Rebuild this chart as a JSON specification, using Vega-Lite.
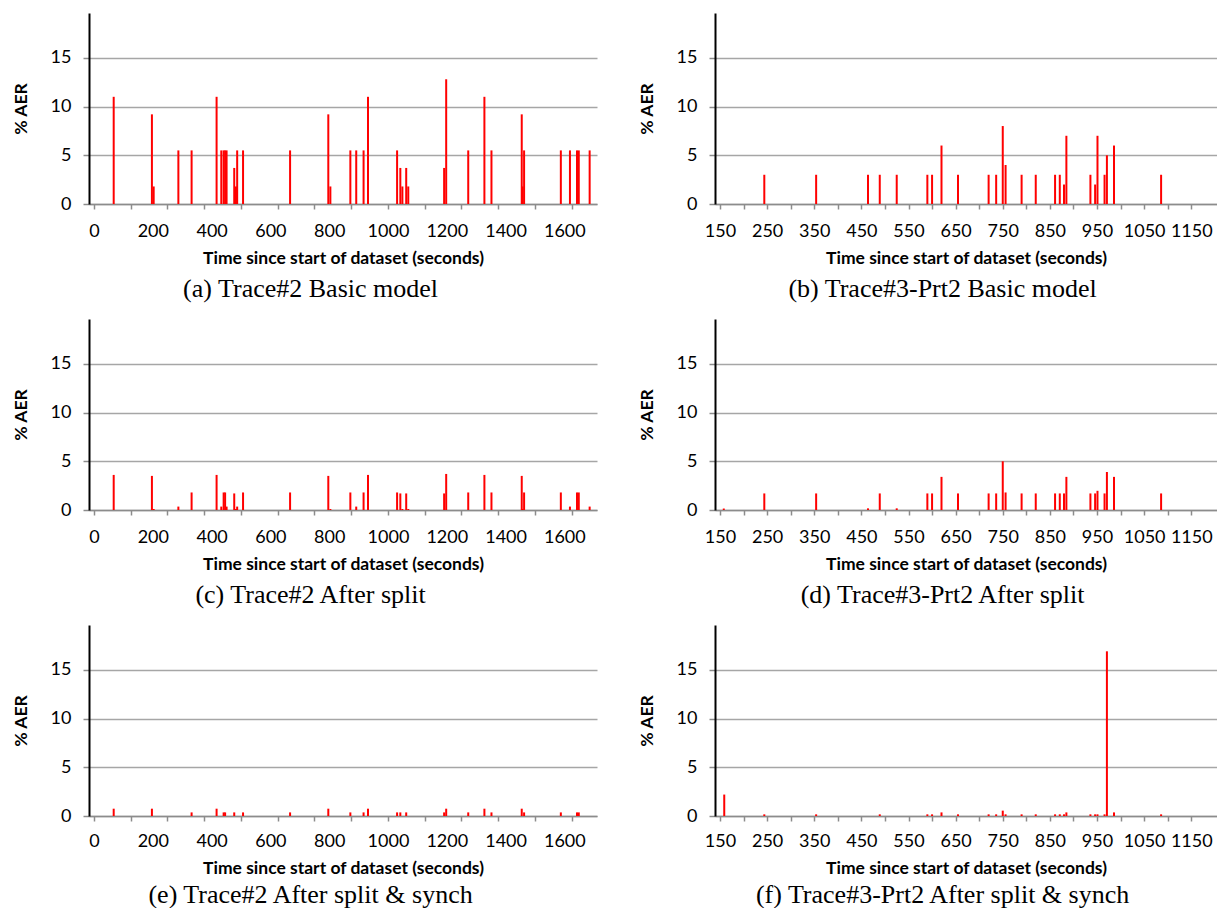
{
  "$schema": "https://vega.github.io/schema/vega-lite/v6.json",
  "padding": {"left": 12, "top": 13, "right": 0, "bottom": 0},
  "background": "white",
  "datasets": {
    "a": [{"t":67,"aer":11},{"t":197,"aer":9.2},{"t":203,"aer":1.8},{"t":287,"aer":5.5},{"t":332,"aer":5.5},{"t":417,"aer":11},{"t":433,"aer":5.5},{"t":441,"aer":5.5},{"t":446,"aer":5.5},{"t":451,"aer":5.5},{"t":477,"aer":3.7},{"t":483,"aer":1.8},{"t":487,"aer":5.5},{"t":507,"aer":5.5},{"t":667,"aer":5.5},{"t":797,"aer":9.2},{"t":804,"aer":1.8},{"t":872,"aer":5.5},{"t":892,"aer":5.5},{"t":917,"aer":5.5},{"t":932,"aer":11},{"t":1031,"aer":5.5},{"t":1042,"aer":3.7},{"t":1049,"aer":1.8},{"t":1062,"aer":3.7},{"t":1069,"aer":1.8},{"t":1191,"aer":3.7},{"t":1198,"aer":12.8},{"t":1273,"aer":5.5},{"t":1328,"aer":11},{"t":1352,"aer":5.5},{"t":1455,"aer":9.2},{"t":1458,"aer":1.8},{"t":1463,"aer":5.5},{"t":1588,"aer":5.5},{"t":1619,"aer":5.5},{"t":1643,"aer":5.5},{"t":1649,"aer":5.5},{"t":1686,"aer":5.5}],
    "b": [{"t":244,"aer":3},{"t":354,"aer":3},{"t":464,"aer":3},{"t":489,"aer":3},{"t":525,"aer":3},{"t":590,"aer":3},{"t":600,"aer":3},{"t":620,"aer":6},{"t":655,"aer":3},{"t":720,"aer":3},{"t":736,"aer":3},{"t":750,"aer":8},{"t":756,"aer":4},{"t":790,"aer":3},{"t":820,"aer":3},{"t":861,"aer":3},{"t":871,"aer":3},{"t":880,"aer":2},{"t":885,"aer":7},{"t":936,"aer":3},{"t":946,"aer":2},{"t":951,"aer":7},{"t":966,"aer":3},{"t":971,"aer":5},{"t":986,"aer":6},{"t":1086,"aer":3}],
    "c": [{"t":67,"aer":3.6},{"t":197,"aer":3.5},{"t":203,"aer":0.1},{"t":287,"aer":0.35},{"t":332,"aer":1.8},{"t":417,"aer":3.6},{"t":433,"aer":0.35},{"t":441,"aer":1.8},{"t":446,"aer":1.8},{"t":451,"aer":0.35},{"t":477,"aer":1.7},{"t":483,"aer":0.1},{"t":487,"aer":0.35},{"t":507,"aer":1.8},{"t":667,"aer":1.8},{"t":797,"aer":3.5},{"t":804,"aer":0.1},{"t":872,"aer":1.8},{"t":892,"aer":0.35},{"t":917,"aer":1.8},{"t":932,"aer":3.6},{"t":1031,"aer":1.8},{"t":1042,"aer":1.7},{"t":1049,"aer":0.1},{"t":1062,"aer":1.7},{"t":1069,"aer":0.1},{"t":1191,"aer":1.7},{"t":1198,"aer":3.7},{"t":1273,"aer":1.8},{"t":1328,"aer":3.6},{"t":1352,"aer":1.8},{"t":1455,"aer":3.5},{"t":1458,"aer":0.1},{"t":1463,"aer":1.8},{"t":1588,"aer":1.8},{"t":1619,"aer":0.35},{"t":1643,"aer":1.8},{"t":1649,"aer":1.8},{"t":1686,"aer":0.35}],
    "d": [{"t":158,"aer":0.15},{"t":244,"aer":1.7},{"t":354,"aer":1.7},{"t":464,"aer":0.17},{"t":489,"aer":1.7},{"t":525,"aer":0.17},{"t":590,"aer":1.7},{"t":600,"aer":1.7},{"t":620,"aer":3.4},{"t":655,"aer":1.7},{"t":720,"aer":1.7},{"t":736,"aer":1.7},{"t":750,"aer":5.0},{"t":756,"aer":1.8},{"t":790,"aer":1.7},{"t":820,"aer":1.7},{"t":861,"aer":1.7},{"t":871,"aer":1.7},{"t":880,"aer":1.7},{"t":885,"aer":3.4},{"t":936,"aer":1.7},{"t":946,"aer":1.7},{"t":951,"aer":1.97},{"t":966,"aer":1.7},{"t":971,"aer":3.9},{"t":986,"aer":3.4},{"t":1086,"aer":1.7}],
    "e": [{"t":67,"aer":0.75},{"t":197,"aer":0.75},{"t":332,"aer":0.37},{"t":417,"aer":0.75},{"t":441,"aer":0.37},{"t":446,"aer":0.37},{"t":477,"aer":0.37},{"t":507,"aer":0.37},{"t":667,"aer":0.37},{"t":797,"aer":0.75},{"t":872,"aer":0.37},{"t":917,"aer":0.37},{"t":932,"aer":0.75},{"t":1031,"aer":0.37},{"t":1042,"aer":0.37},{"t":1062,"aer":0.37},{"t":1191,"aer":0.37},{"t":1198,"aer":0.75},{"t":1273,"aer":0.37},{"t":1328,"aer":0.75},{"t":1352,"aer":0.37},{"t":1455,"aer":0.75},{"t":1463,"aer":0.37},{"t":1588,"aer":0.37},{"t":1643,"aer":0.37},{"t":1649,"aer":0.37}],
    "f": [{"t":159,"aer":2.2},{"t":244,"aer":0.17},{"t":354,"aer":0.17},{"t":489,"aer":0.17},{"t":590,"aer":0.17},{"t":600,"aer":0.17},{"t":620,"aer":0.37},{"t":655,"aer":0.17},{"t":720,"aer":0.17},{"t":736,"aer":0.17},{"t":750,"aer":0.55},{"t":756,"aer":0.17},{"t":790,"aer":0.17},{"t":820,"aer":0.17},{"t":861,"aer":0.17},{"t":871,"aer":0.17},{"t":880,"aer":0.17},{"t":885,"aer":0.37},{"t":936,"aer":0.17},{"t":946,"aer":0.17},{"t":951,"aer":0.17},{"t":966,"aer":0.17},{"t":971,"aer":16.9},{"t":986,"aer":0.37},{"t":1086,"aer":0.17}]
  },
  "columns": 2,
  "spacing": {"row": 17, "column": 41},
  "concat": [
    {
      "width": 508, "height": 191,
      "title": {"text": "(a) Trace#2 Basic model", "dx": 6},
      "data": {"name": "a"},
      "mark": {"type": "bar", "size": 2, "color": "#ff0000"},
      "encoding": {
        "x": {"field": "t", "type": "quantitative", "scale": {"domain": [0, 1694], "nice": false, "zero": false},
          "axis": {"values": [0,125,200,250,375,400,500,600,625,750,800,875,1000,1125,1200,1250,1375,1400,1500,1600,1625], "format": "d", "labelExpr": "datum.value % 200 === 0 ? datum.label : ''", "tickOpacity": {"condition": {"test": "datum.value % 125 === 0", "value": 1}, "value": 0}, "labelOverlap": false, "labelFlush": false, "grid": false, "title": "Time since start of dataset (seconds)"}},
        "y": {"field": "aer", "type": "quantitative", "scale": {"domain": [0, 19.6], "nice": false}, "axis": {"values": [0,5,10,15], "grid": true, "title": "% AER"}}
      }
    },
    {
      "width": 502, "height": 191,
      "title": {"text": "(b) Trace#3-Prt2 Basic model", "dx": 15},
      "data": {"name": "b"},
      "mark": {"type": "bar", "size": 2, "color": "#ff0000"},
      "encoding": {
        "x": {"field": "t", "type": "quantitative", "scale": {"domain": [150, 1194], "nice": false, "zero": false},
          "axis": {"values": [150,200,250,300,350,400,450,500,550,600,650,700,750,800,850,900,950,1000,1050,1100,1150], "format": "d", "labelExpr": "(datum.value - 150) % 100 === 0 ? datum.label : ''", "labelOverlap": false, "labelFlush": false, "grid": false, "title": "Time since start of dataset (seconds)"}},
        "y": {"field": "aer", "type": "quantitative", "scale": {"domain": [0, 19.6], "nice": false}, "axis": {"values": [0,5,10,15], "grid": true, "title": "% AER"}}
      }
    },
    {
      "width": 508, "height": 191,
      "title": {"text": "(c) Trace#2 After split", "dx": 6},
      "data": {"name": "c"},
      "mark": {"type": "bar", "size": 2, "color": "#ff0000"},
      "encoding": {
        "x": {"field": "t", "type": "quantitative", "scale": {"domain": [0, 1694], "nice": false, "zero": false},
          "axis": {"values": [0,125,200,250,375,400,500,600,625,750,800,875,1000,1125,1200,1250,1375,1400,1500,1600,1625], "format": "d", "labelExpr": "datum.value % 200 === 0 ? datum.label : ''", "tickOpacity": {"condition": {"test": "datum.value % 125 === 0", "value": 1}, "value": 0}, "labelOverlap": false, "labelFlush": false, "grid": false, "title": "Time since start of dataset (seconds)"}},
        "y": {"field": "aer", "type": "quantitative", "scale": {"domain": [0, 19.6], "nice": false}, "axis": {"values": [0,5,10,15], "grid": true, "title": "% AER"}}
      }
    },
    {
      "width": 502, "height": 191,
      "title": {"text": "(d) Trace#3-Prt2 After split", "dx": 15},
      "data": {"name": "d"},
      "mark": {"type": "bar", "size": 2, "color": "#ff0000"},
      "encoding": {
        "x": {"field": "t", "type": "quantitative", "scale": {"domain": [150, 1194], "nice": false, "zero": false},
          "axis": {"values": [150,200,250,300,350,400,450,500,550,600,650,700,750,800,850,900,950,1000,1050,1100,1150], "format": "d", "labelExpr": "(datum.value - 150) % 100 === 0 ? datum.label : ''", "labelOverlap": false, "labelFlush": false, "grid": false, "title": "Time since start of dataset (seconds)"}},
        "y": {"field": "aer", "type": "quantitative", "scale": {"domain": [0, 19.6], "nice": false}, "axis": {"values": [0,5,10,15], "grid": true, "title": "% AER"}}
      }
    },
    {
      "width": 508, "height": 191,
      "title": {"text": "(e) Trace#2 After split & synch", "dx": 6, "offset": 5},
      "data": {"name": "e"},
      "mark": {"type": "bar", "size": 2, "color": "#ff0000"},
      "encoding": {
        "x": {"field": "t", "type": "quantitative", "scale": {"domain": [0, 1694], "nice": false, "zero": false},
          "axis": {"values": [0,125,200,250,375,400,500,600,625,750,800,875,1000,1125,1200,1250,1375,1400,1500,1600,1625], "format": "d", "labelExpr": "datum.value % 200 === 0 ? datum.label : ''", "tickOpacity": {"condition": {"test": "datum.value % 125 === 0", "value": 1}, "value": 0}, "labelOverlap": false, "labelFlush": false, "labelPadding": 11, "grid": false, "title": "Time since start of dataset (seconds)"}},
        "y": {"field": "aer", "type": "quantitative", "scale": {"domain": [0, 19.6], "nice": false}, "axis": {"values": [0,5,10,15], "grid": true, "title": "% AER"}}
      }
    },
    {
      "width": 502, "height": 191,
      "title": {"text": "(f) Trace#3-Prt2 After split & synch", "dx": 15, "offset": 5},
      "data": {"name": "f"},
      "mark": {"type": "bar", "size": 2, "color": "#ff0000"},
      "encoding": {
        "x": {"field": "t", "type": "quantitative", "scale": {"domain": [150, 1194], "nice": false, "zero": false},
          "axis": {"values": [150,200,250,300,350,400,450,500,550,600,650,700,750,800,850,900,950,1000,1050,1100,1150], "format": "d", "labelExpr": "(datum.value - 150) % 100 === 0 ? datum.label : ''", "labelOverlap": false, "labelFlush": false, "labelPadding": 11, "grid": false, "title": "Time since start of dataset (seconds)"}},
        "y": {"field": "aer", "type": "quantitative", "scale": {"domain": [0, 19.6], "nice": false}, "axis": {"values": [0,5,10,15], "grid": true, "title": "% AER"}}
      }
    }
  ],
  "config": {
    "view": {"stroke": null},
    "axis": {"labelFont": "Lato", "labelFontSize": 18, "labelColor": "black", "titleFont": "Lato", "titleFontWeight": "bold", "titleFontSize": 17.5, "titleColor": "black", "tickColor": "#8c8c8c", "domainColor": "#8c8c8c"},
    "axisX": {"tickSize": 5, "tickWidth": 1.5, "domainWidth": 1.5, "labelPadding": 13, "titlePadding": 9},
    "axisY": {"domainColor": "black", "domainWidth": 2, "tickSize": 6, "tickWidth": 1.5, "labelPadding": 12, "gridColor": "#a6a6a6", "gridWidth": 1.5, "titlePadding": 20},
    "title": {"font": "Liberation Serif", "fontSize": 26, "fontWeight": "normal", "orient": "bottom", "anchor": "middle", "frame": "bounds", "offset": 9, "color": "black"}
  }
}
